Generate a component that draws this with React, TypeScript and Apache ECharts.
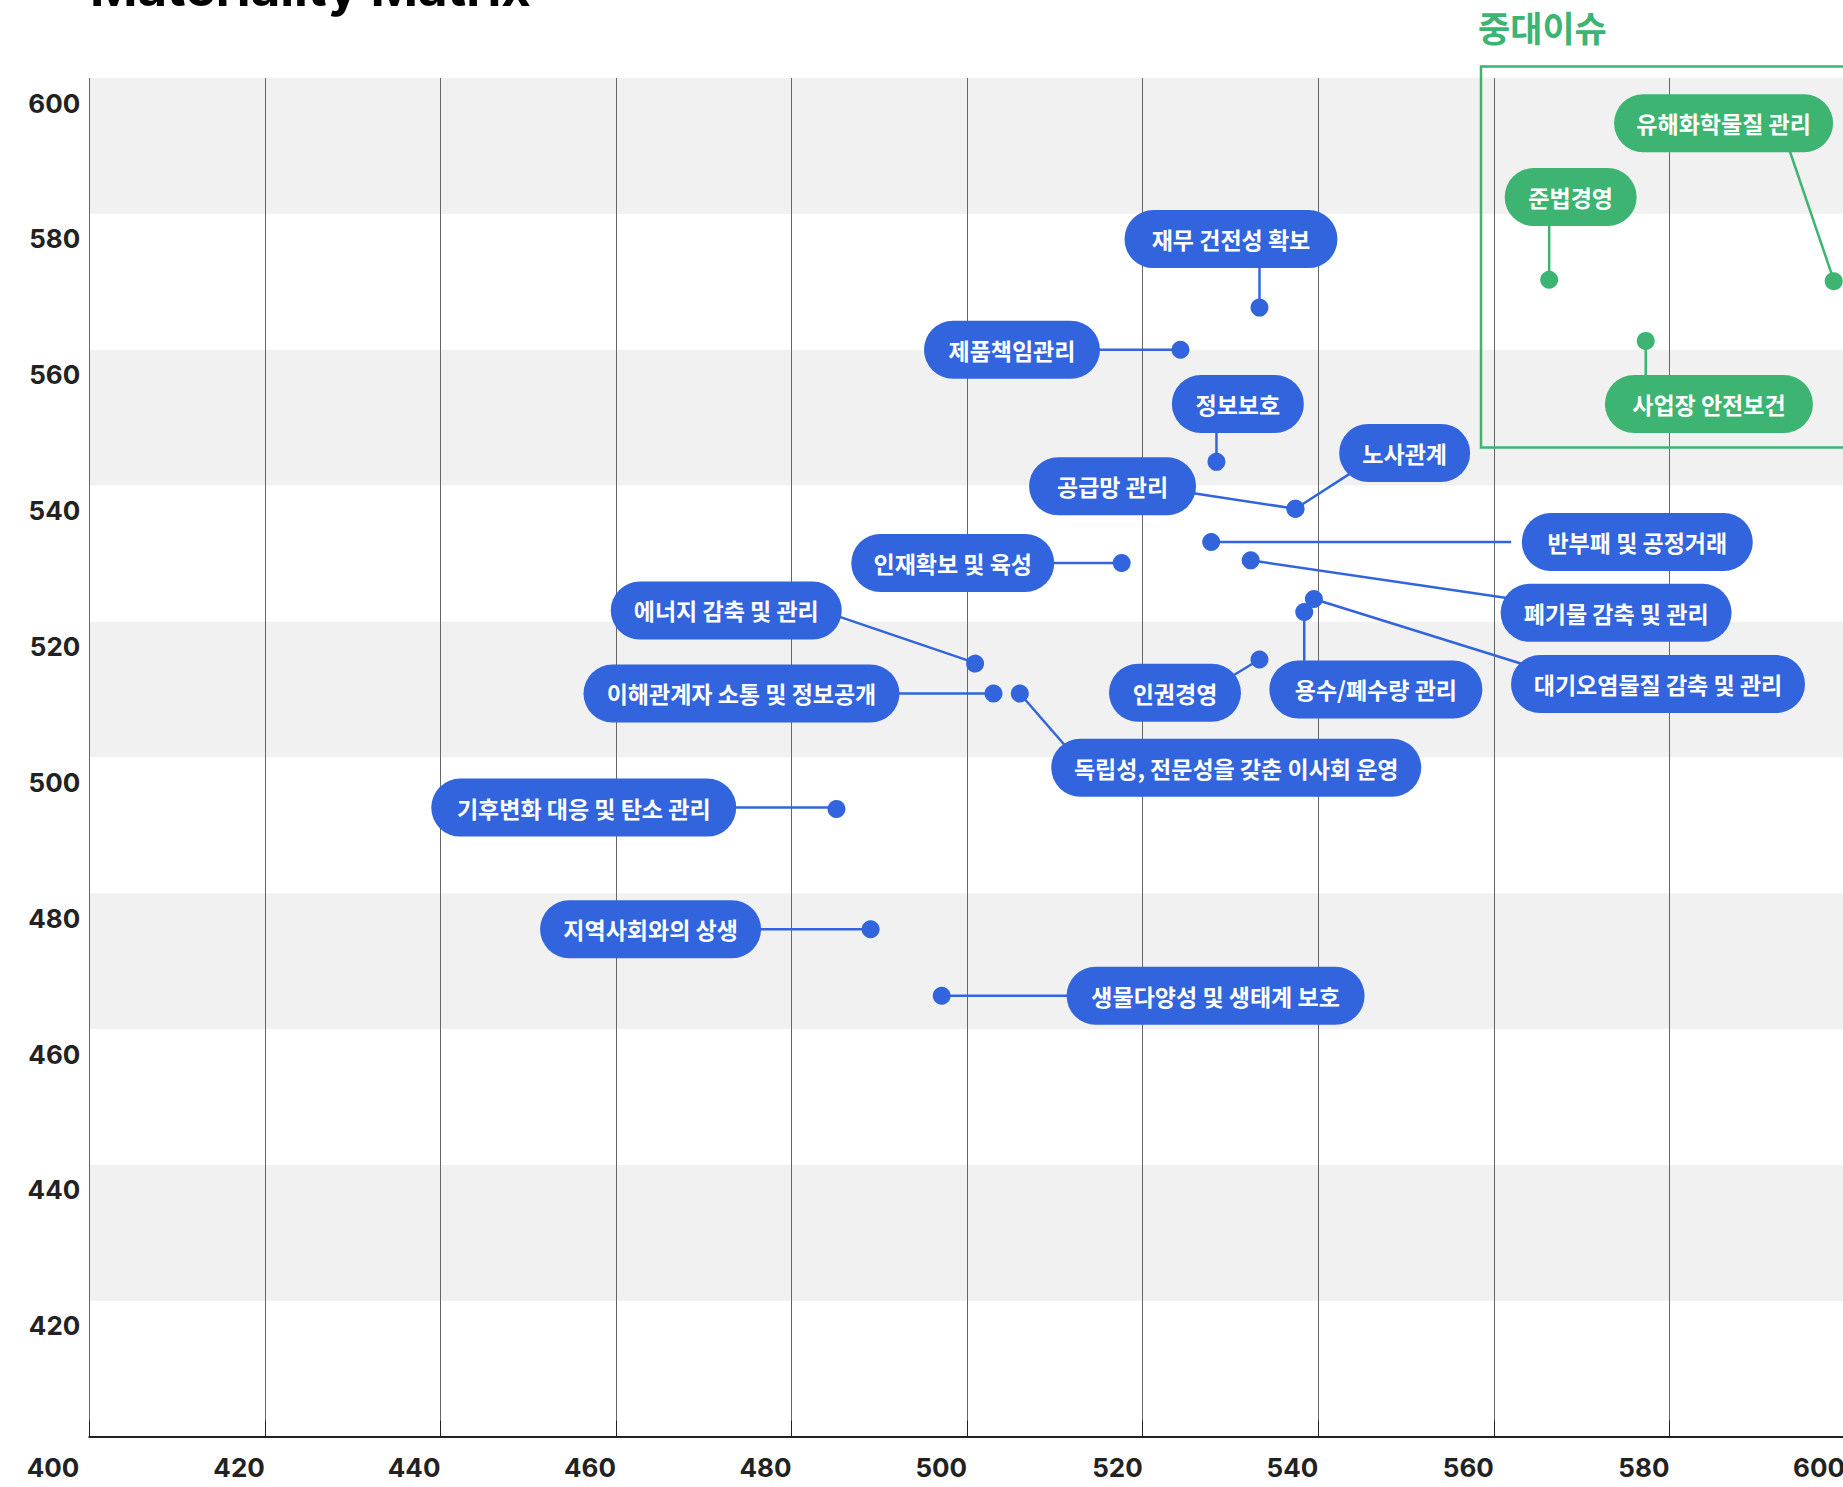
import React, { useEffect, useRef } from "react";
import * as echarts from "echarts";

// ---- data ----
const issueNames = [
  "재무 건전성 확보",
  "제품책임관리",
  "정보보호",
  "공급망 관리",
  "노사관계",
  "반부패 및 공정거래",
  "폐기물 감축 및 관리",
  "인재확보 및 육성",
  "대기오염물질 감축 및 관리",
  "용수/폐수량 관리",
  "인권경영",
  "에너지 감축 및 관리",
  "이해관계자 소통 및 정보공개",
  "독립성, 전문성을 갖춘 이사회 운영",
  "기후변화 대응 및 탄소 관리",
  "지역사회와의 상생",
  "생물다양성 및 생태계 보호",
  "준법경영",
  "유해화학물질 관리",
  "사업장 안전보건",
];
const xScores = [
  533.3, 524.3, 528.4, 537.4, 537.4, 527.8, 532.3, 517.6, 539.5, 538.4,
  533.3, 500.9, 503.0, 506.0, 485.1, 489.0, 497.1, 566.3, 598.7, 577.3,
];
const yScores = [
  566.2, 560.0, 543.5, 536.6, 536.6, 531.7, 529.0, 528.6, 523.3, 521.4,
  514.4, 513.9, 509.4, 509.4, 492.6, 474.7, 464.9, 570.3, 570.3, 561.3,
];
const keyIssue = [
  false, false, false, false, false, false, false, false, false, false,
  false, false, false, false, false, false, false, true, true, true,
];
const xTicks = { min: 400, max: 600, step: 20 };
const yTicks = { min: 400, max: 600, step: 20 };

// ---- layout (label placement relative to each point, in px) ----
// [labelDx, labelDy, leaderEndDx, leaderEndDy, boxWidth]
const labelLayout: number[][] = [
  [-28.5, -68.5, 0, -50, 213],
  [-168.5, 0, -120, 0, 176],
  [21.4, -57.9, 0, -45, 132],
  [-182.9, -22.5, -120, -18.1, 167],
  [109.2, -55.8, 65, -41.8, 131],
  [426.1, 0, 300, 0, 231],
  [365.4, 52.5, 275, 40.3, 231],
  [-168.9, 0, -120, 0, 203],
  [344.1, 85, 230, 71.7, 294],
  [71.6, 77.5, 0, 65, 213],
  [-84.5, 33.2, -40, 24.2, 132],
  [-248.8, -52.5, -150, -51, 231],
  [-252, 0, -200, 0, 316],
  [216.4, 74.2, 55, 63.3, 370],
  [-252.6, 0, -200, 0, 305],
  [-220, 0, -150, 0, 221],
  [273.9, 0, 200, 0, 298],
  [21.5, -82.7, 0, -70, 132],
  [-110, -156.5, -48, -141, 219],
  [63.2, 63.1, 0, 50, 208],
];

const BLUE = "#3265DD";
const GREEN = "#3DB471";
const KR = '"Noto Sans CJK KR", "Noto Sans", sans-serif';
const NUM = 'Inter, "Liberation Sans", sans-serif';

export default function App() {
  const ref = useRef<HTMLDivElement>(null);

  useEffect(() => {
    if (!ref.current) return;
    const chart = echarts.init(ref.current, undefined, { renderer: "svg" });

    const data = xScores.map((x, i) => [x, yScores[i]]);
    const numStyle = { fontFamily: NUM, fontWeight: "bold", fontSize: 26, color: "#222" };

    const option: any = {
      animation: false,
      backgroundColor: "#ffffff",
      grid: {
        left: 89.3,
        right: -2,
        top: 78,
        bottom: 50.3,
        containLabel: false,
        outerBoundsMode: "none",
      },
      xAxis: {
        type: "value",
        min: xTicks.min,
        max: xTicks.max,
        interval: xTicks.step,
        axisLine: { show: true, lineStyle: { color: "#222", width: 2 } },
        axisTick: { show: true, inside: true, length: 16, lineStyle: { color: "#222", width: 1 } },
        axisLabel: {
          align: "right",
          margin: 18,
          ...numStyle,
          showMaxLabel: true,
          showMinLabel: true,
          formatter: (v: number) => (v === xTicks.min ? "{first|" + v + "}" : String(v)),
          rich: {
            first: { ...numStyle, padding: [0, 10, 0, 0] },
          },
        },
        splitLine: { show: true, lineStyle: { color: "#666", width: 1 } },
      },
      yAxis: {
        type: "value",
        min: yTicks.min,
        max: yTicks.max,
        interval: yTicks.step,
        axisLine: { show: false },
        axisTick: { show: false },
        axisLabel: {
          showMinLabel: false,
          verticalAlign: "top",
          margin: 9,
          padding: [12, 0, 0, 0],
          lineHeight: 26,
          ...numStyle,
        },
        splitLine: { show: false },
        splitArea: { show: true, areaStyle: { color: ["#ffffff", "#f1f1f1"] } },
      },
      graphic: [
        {
          type: "text",
          x: 90,
          y: -13,
          style: {
            text: "Materiality Matrix",
            fill: "#000",
            fontFamily: NUM,
            fontWeight: "bold",
            fontSize: 51,
            verticalAlign: "middle",
          },
        },
        {
          type: "text",
          x: 1478,
          y: 26,
          style: {
            text: "중대이슈",
            fill: GREEN,
            fontFamily: KR,
            fontWeight: "bold",
            fontSize: 35,
            verticalAlign: "middle",
          },
        },
        {
          type: "rect",
          shape: { x: 1481, y: 66.5, width: 420, height: 381 },
          style: { fill: "none", stroke: GREEN, lineWidth: 2.5 },
          z: 5,
        },
      ],
      series: [
        {
          type: "custom",
          coordinateSystem: "cartesian2d",
          clip: false,
          data,
          encode: { x: 0, y: 1 },
          z: 10,
          renderItem: (params: any, api: any) => {
            const i = params.dataIndex;
            const pt = api.coord([api.value(0), api.value(1)]);
            const px = pt[0];
            const py = pt[1];
            const color = keyIssue[i] ? GREEN : BLUE;
            const [ldx, ldy, ex, ey, w] = labelLayout[i];
            return {
              type: "group",
              children: [
                {
                  type: "line",
                  z2: 1,
                  shape: { x1: px, y1: py, x2: px + ex, y2: py + ey },
                  style: { stroke: color, lineWidth: 2.5 },
                },
                {
                  type: "text",
                  z2: 2,
                  x: px + ldx,
                  y: py + ldy,
                  style: {
                    text: issueNames[i],
                    fill: "#ffffff",
                    fontFamily: KR,
                    fontWeight: "bold",
                    fontSize: 23,
                    lineHeight: 24,
                    align: "center",
                    verticalAlign: "middle",
                    width: w - 44,
                    backgroundColor: color,
                    borderRadius: 29,
                    padding: [17, 22],
                  },
                },
                {
                  type: "circle",
                  z2: 3,
                  shape: { cx: px, cy: py, r: 9 },
                  style: { fill: color },
                },
              ],
            };
          },
        },
      ],
    };

    chart.setOption(option);
    return () => chart.dispose();
  }, []);

  return (
    <div
      ref={ref}
      style={{ position: "absolute", left: 0, top: 0, width: 1843, height: 1487 }}
    />
  );
}
